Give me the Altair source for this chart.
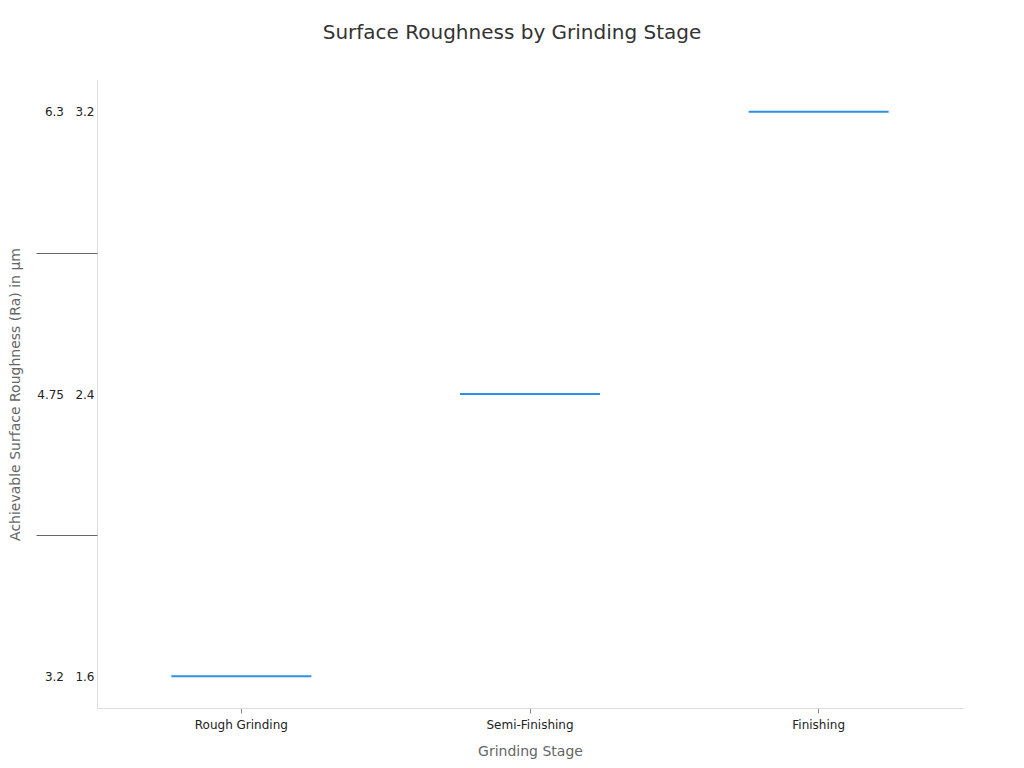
import altair as alt
import pandas as pd

stages = ["Rough Grinding", "Semi-Finishing", "Finishing"]
ra_upper = [3.2, 4.75, 6.3]
ra_lower = [1.6, 2.4, 3.2]

df = pd.DataFrame({"stage": stages, "ra": ra_upper, "ra_low": ra_lower})

# separators between adjacent levels
seps = [(a + b) / 2 for a, b in zip(ra_upper[:-1], ra_upper[1:])]

# label expression: "upper   lower"
nb = "\u00a0\u00a0\u00a0"
expr = "''"
for u, l in zip(ra_upper, ra_lower):
    expr = f"abs(datum.value - {u}) < 0.001 ? '{u:g}{nb}{l:g}' : ({expr})"

y_scale = alt.Scale(domain=[3.025, 6.475], nice=False, zero=False)
x_enc = alt.X(
    "stage:N",
    sort=stages,
    scale=alt.Scale(paddingInner=0, paddingOuter=0),
    axis=alt.Axis(
        title="Grinding Stage",
        labelAngle=0,
        labelFontSize=12,
        labelColor="#222",
        labelPadding=6,
        tickSize=5,
        tickColor="#888",
        domainColor="#ddd",
        titleFontSize=14,
        titleFontWeight="normal",
        titleColor="#666",
        titlePadding=14,
    ),
)

marks = alt.Chart(df).mark_tick(
    color="#2f8fe4", opacity=1, thickness=2, size=140, orient="horizontal"
).encode(
    x=x_enc,
    y=alt.Y(
        "ra:Q",
        scale=y_scale,
        axis=alt.Axis(
            orient="left",
            values=ra_upper,
            labelExpr=expr,
            labelFontSize=12,
            labelColor="#222",
            ticks=False,
            labelPadding=3,
            grid=False,
            domainColor="#ddd",
            title="Achievable Surface Roughness (Ra) in µm",
            titleFontSize=14,
            titleFontWeight="normal",
            titleColor="#666",
            titlePadding=14,
        ),
    ),
)

sep_df = pd.DataFrame({"ra": seps})
sep_layer = alt.Chart(sep_df).mark_point(opacity=0).encode(
    y=alt.Y(
        "ra:Q",
        scale=y_scale,
        axis=alt.Axis(
            orient="left",
            values=seps,
            labels=False,
            tickSize=61,
            tickColor="#666",
            tickWidth=1,
            domain=False,
            grid=False,
            title=None,
        ),
    )
)

chart = (
    alt.layer(marks, sep_layer)
    .resolve_axis(y="independent")
    .properties(
        width=866,
        height=628,
        padding={"left": 89, "top": 72, "right": 53, "bottom": 52},
        autosize=alt.AutoSizeParams(type="none"),
        title=alt.TitleParams(
            "Surface Roughness by Grinding Stage",
            fontSize=20,
            fontWeight="normal",
            color="#333",
            anchor="middle",
            dx=-18,
            offset=37,
        ),
    )
    .configure(font="DejaVu Sans")
    .configure_view(strokeWidth=0, stroke="transparent")
)

chart.save("out.html", embed_options={"renderer": "svg", "actions": False})
